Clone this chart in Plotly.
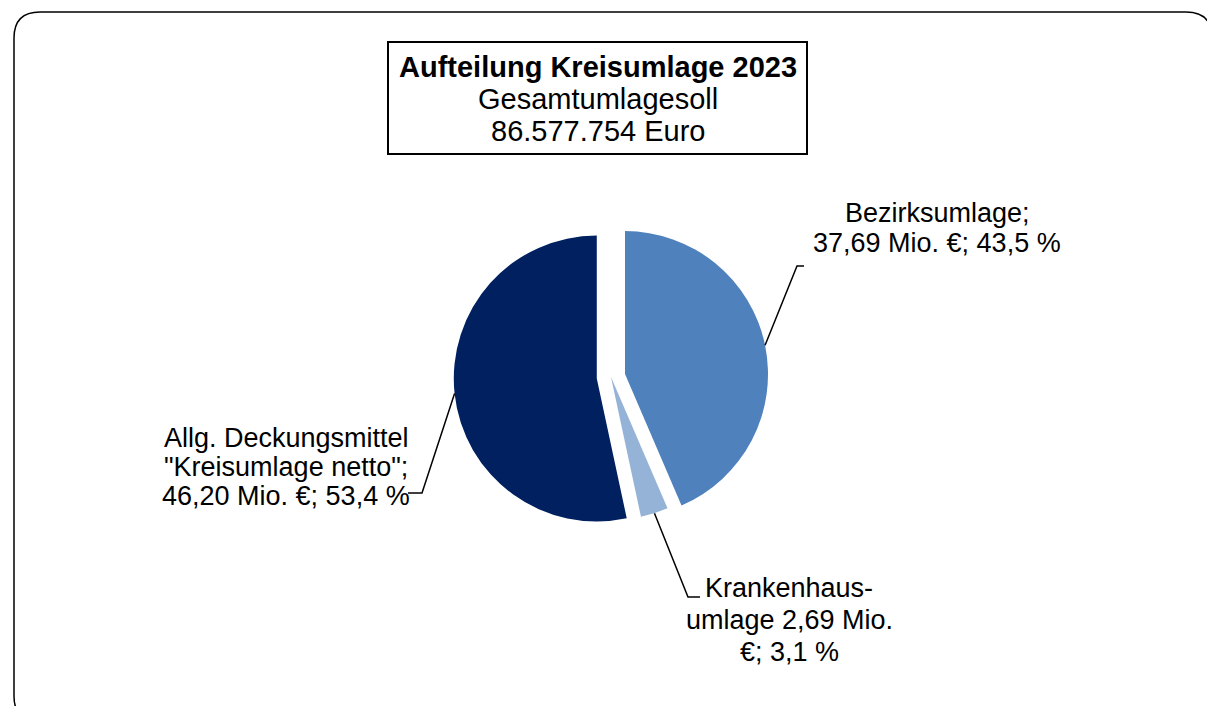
import math
import plotly.graph_objects as go

# ---------------- data ----------------
categories = ["Bezirksumlage", "Krankenhausumlage", "Allg. Deckungsmittel \"Kreisumlage netto\""]
values_mio = [37.69, 2.69, 46.20]
shares_pct = [43.5, 3.1, 53.4]
slice_colors = ["#4F81BD", "#95B3D7", "#002060"]
slice_pull = [0.1, 0.0, 0.1]
label_lines = [
    ["Bezirksumlage;", "37,69 Mio. €; 43,5 %"],
    ["Krankenhaus-", "umlage 2,69 Mio.", "€; 3,1 %"],
    ["Allg. Deckungsmittel", "\"Kreisumlage netto\";", "46,20 Mio. €; 53,4 %"],
]
title_lines = ["<b>Aufteilung Kreisumlage 2023</b>", "Gesamtumlagesoll", "86.577.754 Euro"]

# ---------------- layout constants (pixels, page coordinates) ----------------
W, H = 1215, 706
OFF = 8                              # default page body margin
FONT = "Liberation Sans, Arial, sans-serif"
CX, CY, R = 611, 377, 143            # pie centre / radius
MAXPULL = max(slice_pull)
label_geo = [
    dict(elbow=(797, 266), end=(804, 266), tx=937, ty=213, dy=30),
    dict(elbow=(688, 597), end=(700, 597), tx=789, ty=588, dy=32),
    dict(elbow=(422, 493), end=(408, 493), tx=286, ty=438, dy=29),
]


def px(x):
    return (x - OFF) / W


def py(y):
    return 1 - (y - OFF) / H


half = R * (1 + MAXPULL)
fig = go.Figure(go.Pie(
    labels=categories,
    values=values_mio,
    sort=False,
    direction="clockwise",
    rotation=0,
    pull=slice_pull,
    marker=dict(colors=slice_colors, line=dict(width=0)),
    textinfo="none",
    hoverinfo="label+value+percent",
    showlegend=False,
    domain=dict(x=[px(CX - half), px(CX + half)], y=[py(CY + half), py(CY - half)]),
))

shapes = []
annotations = []

# outer rounded frame
x0, y0, x1, y1, rr = 14, 12, 1212, 722, 26
rx, ry = rr / W, rr / H
X0, X1, Y0, Y1 = px(x0), px(x1), py(y0), py(y1)
path = (f"M {X0+rx},{Y0} L {X1-rx},{Y0} Q {X1},{Y0} {X1},{Y0-ry} "
        f"L {X1},{Y1+ry} Q {X1},{Y1} {X1-rx},{Y1} L {X0+rx},{Y1} "
        f"Q {X0},{Y1} {X0},{Y1+ry} L {X0},{Y0-ry} Q {X0},{Y0} {X0+rx},{Y0} Z")
shapes.append(dict(type="path", xref="paper", yref="paper", path=path,
                   line=dict(color="#000000", width=1.5)))

# title box
shapes.append(dict(type="rect", xref="paper", yref="paper",
                   x0=px(388), x1=px(807), y0=py(154), y1=py(42),
                   line=dict(color="#000000", width=2), fillcolor="white"))
for i, t in enumerate(title_lines):
    annotations.append(dict(text=t, x=px(597.5), y=py(67 + 32 * i), xref="paper", yref="paper",
                            xanchor="center", yanchor="middle", showarrow=False,
                            font=dict(family=FONT, size=29, color="#000000")))

# leader lines + labels, starting points from slice bisectors
total = sum(values_mio)
cum = 0.0
for i, v in enumerate(values_mio):
    mid = (cum + v / 2) / total * 2 * math.pi
    cum += v
    ux, uy = math.sin(mid), -math.cos(mid)
    scx = CX + slice_pull[i] * R * ux
    scy = CY + slice_pull[i] * R * uy
    sx, sy = scx + R * ux, scy + R * uy
    g = label_geo[i]
    (ex, ey), (fx, fy) = g["elbow"], g["end"]
    shapes.append(dict(type="path", xref="paper", yref="paper",
                       path=f"M {px(sx)},{py(sy)} L {px(ex)},{py(ey)} L {px(fx)},{py(fy)}",
                       line=dict(color="#000000", width=1.5)))
    for j, line in enumerate(label_lines[i]):
        annotations.append(dict(text=line, x=px(g["tx"]), y=py(g["ty"] + g["dy"] * j),
                                xref="paper", yref="paper", xanchor="center", yanchor="middle",
                                showarrow=False,
                                font=dict(family=FONT, size=27, color="#000000")))

fig.update_layout(
    width=W, height=H, autosize=False,
    margin=dict(l=0, r=0, t=0, b=0),
    paper_bgcolor="white", plot_bgcolor="white",
    shapes=shapes, annotations=annotations,
)

fig.write_html("out.html")
